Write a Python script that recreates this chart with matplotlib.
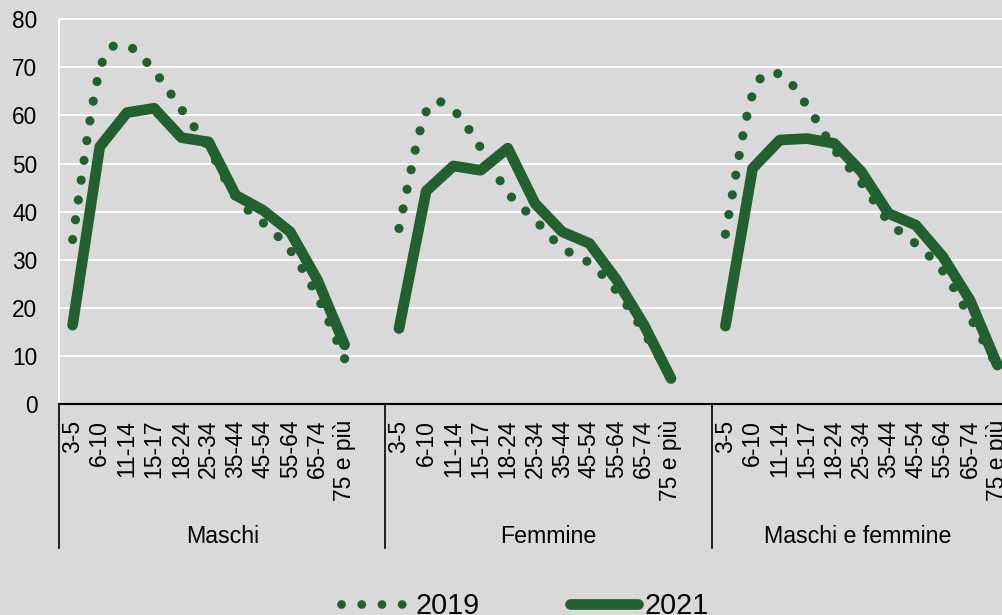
import matplotlib
matplotlib.use('Agg')
import matplotlib.pyplot as plt
from matplotlib.path import Path
from matplotlib.patches import PathPatch
from matplotlib.lines import Line2D
import matplotlib.transforms as mtransforms

plt.rcParams['font.family'] = ['Liberation Sans', 'DejaVu Sans']

# ---------------- data ----------------
age_labels = ["3-5", "6-10", "11-14", "15-17", "18-24", "25-34", "35-44",
              "45-54", "55-64", "65-74", "75 e più"]
groups = ["Maschi", "Femmine", "Maschi e femmine"]

y2019_maschi = [34.2, 69.5, 74.3, 69.2, 61.3, 53.2, 43.0, 37.7, 32.0, 22.3, 9.4]
y2019_femmine = [36.5, 60.8, 61.0, 53.3, 44.0, 38.3, 32.5, 29.3, 23.5, 15.0, 5.5]
y2019_totale = [35.3, 64.4, 68.6, 62.0, 53.0, 46.0, 38.0, 33.3, 27.6, 18.0, 7.8]

y2021_maschi = [16.4, 53.5, 60.6, 61.5, 55.4, 54.5, 43.4, 40.3, 35.8, 25.8, 12.3]
y2021_femmine = [15.7, 44.3, 49.5, 48.6, 53.2, 41.7, 35.8, 33.4, 25.8, 16.5, 5.3]
y2021_totale = [16.2, 49.0, 54.9, 55.2, 54.2, 48.3, 39.6, 37.2, 30.6, 21.5, 8.1]

series_2019 = [y2019_maschi, y2019_femmine, y2019_totale]
series_2021 = [y2021_maschi, y2021_femmine, y2021_totale]
legend_labels = ["2019", "2021"]

# ---------------- style ----------------
W, H = 1003, 615
BG = '#D9D9D9'
GREEN = '#22602F'
SLOT = 12  # 11 categories + 1 empty slot per group

fig = plt.figure(figsize=(W / 100, H / 100), dpi=100, facecolor=BG)
ax_left, ax_bottom_px, ax_top_px = 59, 404, 19.3
ax = fig.add_axes([ax_left / W, 1 - ax_bottom_px / H, (W - ax_left) / W,
                   (ax_bottom_px - ax_top_px) / H])
ax.set_facecolor(BG)
slot_px = 27.2
xmin = -0.5
xmax = -0.5 + (W - ax_left) / slot_px
ax.set_xlim(xmin, xmax)
ax.set_ylim(0, 80)


def smooth_verts(xs, ys):
    n = len(xs)
    verts = [(xs[0], ys[0])]
    codes = [Path.MOVETO]
    for i in range(n - 1):
        a = i - 1 if i > 0 else i
        d = i + 2 if i + 2 < n else i + 1
        c1 = (xs[i] + (xs[i + 1] - xs[a]) / 6, ys[i] + (ys[i + 1] - ys[a]) / 6)
        c2 = (xs[i + 1] - (xs[d] - xs[i]) / 6, ys[i + 1] - (ys[d] - ys[i]) / 6)
        verts += [c1, c2, (xs[i + 1], ys[i + 1])]
        codes += [Path.CURVE4] * 3
    return verts, codes


DOT_LW = 6.6
DOT_STYLE = (0, (0.01, 2.17))

positions = []
for g in range(len(groups)):
    xs = [g * SLOT + i for i in range(len(age_labels))]
    positions += xs
    # 2019 smoothed dotted line
    v, c = smooth_verts(xs, series_2019[g])
    patch = PathPatch(Path(v, c), fill=False, edgecolor=GREEN, lw=DOT_LW,
                      linestyle=DOT_STYLE, capstyle='round', zorder=3)
    ax.add_patch(patch)
    # 2021 solid line
    ax.plot(xs, series_2021[g], color=GREEN, lw=7.7, solid_capstyle='round',
            solid_joinstyle='round', zorder=4)

# grid / spines
ax.set_yticks(range(0, 81, 10))
ax.yaxis.grid(True, color='white', lw=1.3)
for gl in ax.get_ygridlines():
    gl.set_clip_on(False)
ax.set_axisbelow(True)
for s in ['top', 'right']:
    ax.spines[s].set_visible(False)
ax.spines['left'].set_color('white')
ax.spines['left'].set_linewidth(1.3)
ax.spines['bottom'].set_color('black')
ax.spines['bottom'].set_linewidth(1.5)
ax.spines['bottom'].set_zorder(5)

ax.tick_params(axis='y', length=0, pad=15.6, labelsize=16.3)
ax.set_xticks(positions)
ax.set_xticklabels(age_labels * len(groups), rotation=90, va='top', ha='center')
ax.tick_params(axis='x', length=0, pad=11.5, labelsize=16.5)

# group separators and labels
trans = mtransforms.blended_transform_factory(ax.transData, ax.transAxes)
ax_h = ax_bottom_px - ax_top_px
sep_bottom = -(548 - ax_bottom_px) / ax_h
lab_base = -(543 - ax_bottom_px) / ax_h
for g in range(len(groups)):
    xs = g * SLOT - 0.5
    ax.add_line(Line2D([xs, xs], [0, sep_bottom], transform=trans, color='black',
                       lw=1.2, clip_on=False))
    right = min(xs + SLOT, xmax)
    ax.text((xs + right) / 2, lab_base, groups[g], transform=trans, ha='center',
            va='baseline', fontsize=16.7)

# legend (manual)
ft = fig.transFigure
ly = 1 - 604.3 / H
fig.add_artist(Line2D([340.7 / W, 402 / W], [ly, ly], transform=ft, color=GREEN,
                      lw=6.3, linestyle=(0, (0.01, 2.3)), dash_capstyle='round'))
fig.text(416 / W, 1 - 614.5 / H, legend_labels[0], transform=ft, fontsize=20.7,
         ha='left', va='baseline')
fig.add_artist(Line2D([570 / W, 637.7 / W], [ly, ly], transform=ft, color=GREEN,
                      lw=7.7, solid_capstyle='round'))
fig.text(645 / W, 1 - 614.5 / H, legend_labels[1], transform=ft, fontsize=20.7,
         ha='left', va='baseline')

fig.savefig('out.png', dpi=100, facecolor=BG)
